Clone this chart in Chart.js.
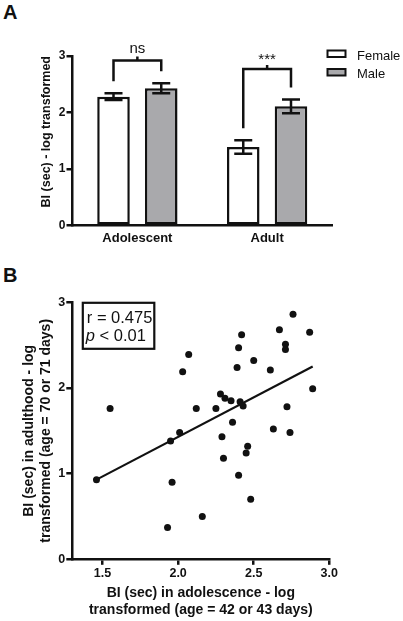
<!DOCTYPE html>
<html>
<head>
<meta charset="utf-8">
<title>BI by age and sex</title>
<script src="https://cdn.jsdelivr.net/npm/chart.js@4.4.1/dist/chart.umd.min.js"></script>
<style>
  html, body { margin: 0; padding: 0; background: #fff; }
  body { width: 403px; height: 621px; position: relative; overflow: hidden; }
  canvas { position: absolute; left: 0; }
  #chartA { top: 0; }
  #chartB { top: 250px; }
  .panel { position: absolute; left: 3px; font: bold 20px "Liberation Sans", Arial, sans-serif; color: #111; }
</style>
</head>
<body>
<div class="panel" style="top:1px">A</div>
<canvas id="chartA" width="403" height="250"></canvas>
<div class="panel" style="top:264px">B</div>
<canvas id="chartB" width="403" height="371"></canvas>
<script>
// --- DATA: PANEL A (mean +/- SEM) ---
const groups = ['Adolescent', 'Adult'];
const femaleMeans = [2.28, 1.39];
const femaleSem = [0.06, 0.12];
const maleMeans = [2.43, 2.11];
const maleSem = [0.09, 0.12];
const sigLabels = ['ns', '***'];
const sigLevels = [2.92, 2.77];
const barTicks = [0, 1, 2, 3];

// --- DATA: PANEL B (one point per animal) ---
const adolescentBI = [1.46, 1.55, 1.93, 1.95, 1.96, 2.01, 2.03, 2.07, 2.12, 2.16,
                      2.25, 2.28, 2.29, 2.31, 2.30, 2.35, 2.36, 2.39, 2.40, 2.40,
                      2.41, 2.42, 2.43, 2.45, 2.46, 2.48, 2.50, 2.61, 2.63, 2.67,
                      2.71, 2.71, 2.72, 2.74, 2.76, 2.87, 2.89];
const adultBI = [0.93, 1.76, 0.37, 1.38, 0.90, 1.48, 2.19, 2.39, 1.76, 0.50,
                 1.76, 1.93, 1.43, 1.88, 1.18, 1.85, 1.60, 2.24, 2.47, 0.98,
                 1.84, 2.62, 1.79, 1.24, 1.32, 0.70, 2.32, 2.21, 1.52, 2.68,
                 2.51, 2.45, 1.78, 1.48, 2.86, 2.65, 1.99];
const fitX = [1.46, 2.89];
const fitY = [0.93, 2.25];
const scatterXTicks = [1.5, 2.0, 2.5, 3.0];
const scatterYTicks = [0, 1, 2, 3];
const statR = 'r = 0.475';
const statP = ['p', ' < 0.01'];

const FONT = '"Liberation Sans", Arial, sans-serif';
const INK = '#111';
Chart.defaults.font.family = FONT;
Chart.defaults.color = INK;

// --- PANEL A PLUGINS ---
const errorBars = {
    id: 'errorBars',
    afterDatasetsDraw(chart) {
        const ctx = chart.ctx;
        const y = chart.scales.y;
        const sems = [femaleSem, maleSem];
        ctx.save();
        ctx.strokeStyle = INK;
        ctx.lineWidth = 2.5;
        chart.data.datasets.forEach((ds, i) => {
            chart.getDatasetMeta(i).data.forEach((bar, j) => {
                const top = y.getPixelForValue(ds.data[j] + sems[i][j]);
                const bottom = y.getPixelForValue(ds.data[j] - sems[i][j]);
                ctx.beginPath();
                ctx.moveTo(bar.x, top);
                ctx.lineTo(bar.x, bottom);
                ctx.moveTo(bar.x - 9, top);
                ctx.lineTo(bar.x + 9, top);
                ctx.moveTo(bar.x - 9, bottom);
                ctx.lineTo(bar.x + 9, bottom);
                ctx.stroke();
            });
        });
        ctx.restore();
    }
};

const sigBrackets = {
    id: 'sigBrackets',
    afterDraw(chart) {
        const ctx = chart.ctx;
        const y = chart.scales.y;
        const fBars = chart.getDatasetMeta(0).data;
        const mBars = chart.getDatasetMeta(1).data;
        ctx.save();
        ctx.strokeStyle = INK;
        ctx.fillStyle = INK;
        ctx.lineWidth = 2.5;
        ctx.font = '15px ' + FONT;
        ctx.textAlign = 'center';
        ctx.textBaseline = 'alphabetic';
        groups.forEach((g, j) => {
            const yb = y.getPixelForValue(sigLevels[j]);
            const leftEnd = y.getPixelForValue(femaleMeans[j] + femaleSem[j]) - 12;
            const rightEnd = y.getPixelForValue(maleMeans[j] + maleSem[j]) - 12;
            const xl = fBars[j].x;
            const xr = mBars[j].x;
            const xm = (xl + xr) / 2;
            ctx.beginPath();
            ctx.moveTo(xl, leftEnd);
            ctx.lineTo(xl, yb);
            ctx.lineTo(xr, yb);
            ctx.lineTo(xr, rightEnd);
            ctx.moveTo(xm, yb);
            ctx.lineTo(xm, yb - 4);
            ctx.stroke();
            // centre the glyphs visually ~12px above the bracket
            const m = ctx.measureText(sigLabels[j]);
            const base = yb - 12 + (m.actualBoundingBoxAscent - m.actualBoundingBoxDescent) / 2;
            ctx.fillText(sigLabels[j], xm, base);
        });
        ctx.restore();
    }
};

const legendBoxes = {
    id: 'legendBoxes',
    afterDraw(chart) {
        const ctx = chart.ctx;
        ctx.save();
        ctx.strokeStyle = INK;
        ctx.lineWidth = 2;
        ctx.font = '13px ' + FONT;
        ctx.textBaseline = 'alphabetic';
        chart.data.datasets.forEach((ds, i) => {
            const top = 50.5 + i * 18.5;
            ctx.fillStyle = ds.backgroundColor;
            ctx.fillRect(327.5, top, 18, 6.5);
            ctx.strokeRect(327.5, top, 18, 6.5);
            ctx.fillStyle = INK;
            ctx.fillText(ds.label, 357, top + 9);
        });
        ctx.restore();
    }
};

// --- PANEL A: BAR CHART ---
new Chart(document.getElementById('chartA'), {
    type: 'bar',
    data: {
        labels: groups,
        datasets: [
            {
                label: 'Female',
                data: femaleMeans,
                backgroundColor: '#ffffff',
                borderColor: INK,
                borderWidth: 2.5,
                borderSkipped: false,
                categoryPercentage: 0.736,
                barPercentage: 0.682
            },
            {
                label: 'Male',
                data: maleMeans,
                backgroundColor: '#a9a9ac',
                borderColor: INK,
                borderWidth: 2.5,
                borderSkipped: false,
                categoryPercentage: 0.736,
                barPercentage: 0.682
            }
        ]
    },
    options: {
        responsive: false,
        animation: false,
        devicePixelRatio: 1,
        layout: { padding: { left: 0, top: 56, right: 71, bottom: 4.3 } },
        plugins: { legend: { display: false }, tooltip: { enabled: false } },
        scales: {
            x: {
                grid: { display: false, drawTicks: false },
                border: { color: INK, width: 2.5 },
                ticks: { padding: 5, font: { size: 13, weight: 'bold' } },
                afterFit: (s) => { s.height = 20; }
            },
            y: {
                min: 0,
                max: 3,
                afterBuildTicks: (s) => { s.ticks = barTicks.map(v => ({ value: v })); },
                grid: { drawOnChartArea: false, tickLength: 6, color: INK, lineWidth: 2.5 },
                border: { color: INK, width: 2.5 },
                ticks: { padding: 1, font: { size: 12, weight: 'bold' } },
                title: {
                    display: true,
                    text: 'BI (sec) - log transformed',
                    align: 'end',
                    font: { size: 12.5, weight: 'bold' },
                    padding: { top: 39.5, bottom: 0 }
                },
                afterFit: (s) => { s.width = 72.5; }
            }
        }
    },
    plugins: [errorBars, sigBrackets, legendBoxes]
});

// --- PANEL B PLUGIN ---
const statBox = {
    id: 'statBox',
    afterDraw(chart) {
        const { ctx, chartArea } = chart;
        const left = chartArea.left + 10.5;
        const top = chartArea.top + 0.5;
        ctx.save();
        ctx.strokeStyle = INK;
        ctx.lineWidth = 2.2;
        ctx.strokeRect(left, top, 71.5, 46);
        ctx.fillStyle = INK;
        ctx.textBaseline = 'alphabetic';
        ctx.font = '16.5px ' + FONT;
        ctx.fillText(statR, left + 4, top + 20.5);
        ctx.font = 'italic 16.5px ' + FONT;
        ctx.fillText(statP[0], left + 3, top + 38.5);
        const pw = ctx.measureText(statP[0]).width;
        ctx.font = '16.5px ' + FONT;
        ctx.fillText(statP[1], left + 3 + pw, top + 38.5);
        ctx.restore();
    }
};

// --- PANEL B: SCATTER + FIT ---
new Chart(document.getElementById('chartB'), {
    type: 'scatter',
    data: {
        datasets: [
            {
                label: 'Animals',
                data: adolescentBI.map((x, i) => ({ x: x, y: adultBI[i] })),
                backgroundColor: INK,
                borderColor: INK,
                pointRadius: 3.5,
                pointBorderWidth: 0
            },
            {
                type: 'line',
                label: 'Fit',
                data: fitX.map((x, i) => ({ x: x, y: fitY[i] })),
                borderColor: INK,
                borderWidth: 2.2,
                pointRadius: 0,
                fill: false
            }
        ]
    },
    options: {
        responsive: false,
        animation: false,
        devicePixelRatio: 1,
        layout: { padding: { left: 0, top: 52.3, right: 73.7, bottom: 0 } },
        plugins: { legend: { display: false }, tooltip: { enabled: false } },
        scales: {
            x: {
                type: 'linear',
                min: 1.3,
                max: 3.0,
                afterBuildTicks: (s) => { s.ticks = scatterXTicks.map(v => ({ value: v })); },
                grid: { drawOnChartArea: false, tickLength: 5.5, color: INK, lineWidth: 2.5 },
                border: { color: INK, width: 2.5 },
                ticks: { padding: 1, font: { size: 12.5, weight: 'bold' }, callback: (v) => Number(v).toFixed(1) },
                title: {
                    display: true,
                    text: ['BI (sec) in adolescence - log', 'transformed (age = 42 or 43 days)'],
                    font: { size: 14, weight: 'bold' },
                    padding: { top: 0, bottom: 2.5 }
                },
                afterFit: (s) => { s.height = 61.7; }
            },
            y: {
                min: 0,
                max: 3,
                afterBuildTicks: (s) => { s.ticks = scatterYTicks.map(v => ({ value: v })); },
                grid: { drawOnChartArea: false, tickLength: 6, color: INK, lineWidth: 2.5 },
                border: { color: INK, width: 2.5 },
                ticks: { padding: 1, font: { size: 12.5, weight: 'bold' } },
                title: {
                    display: true,
                    text: ['BI (sec) in adulthood - log', 'transformed (age = 70 or 71 days)'],
                    font: { size: 14, weight: 'bold' },
                    padding: { top: 20.6, bottom: 0 }
                },
                afterFit: (s) => { s.width = 72.3; }
            }
        }
    },
    plugins: [statBox]
});
</script>
</body>
</html>
